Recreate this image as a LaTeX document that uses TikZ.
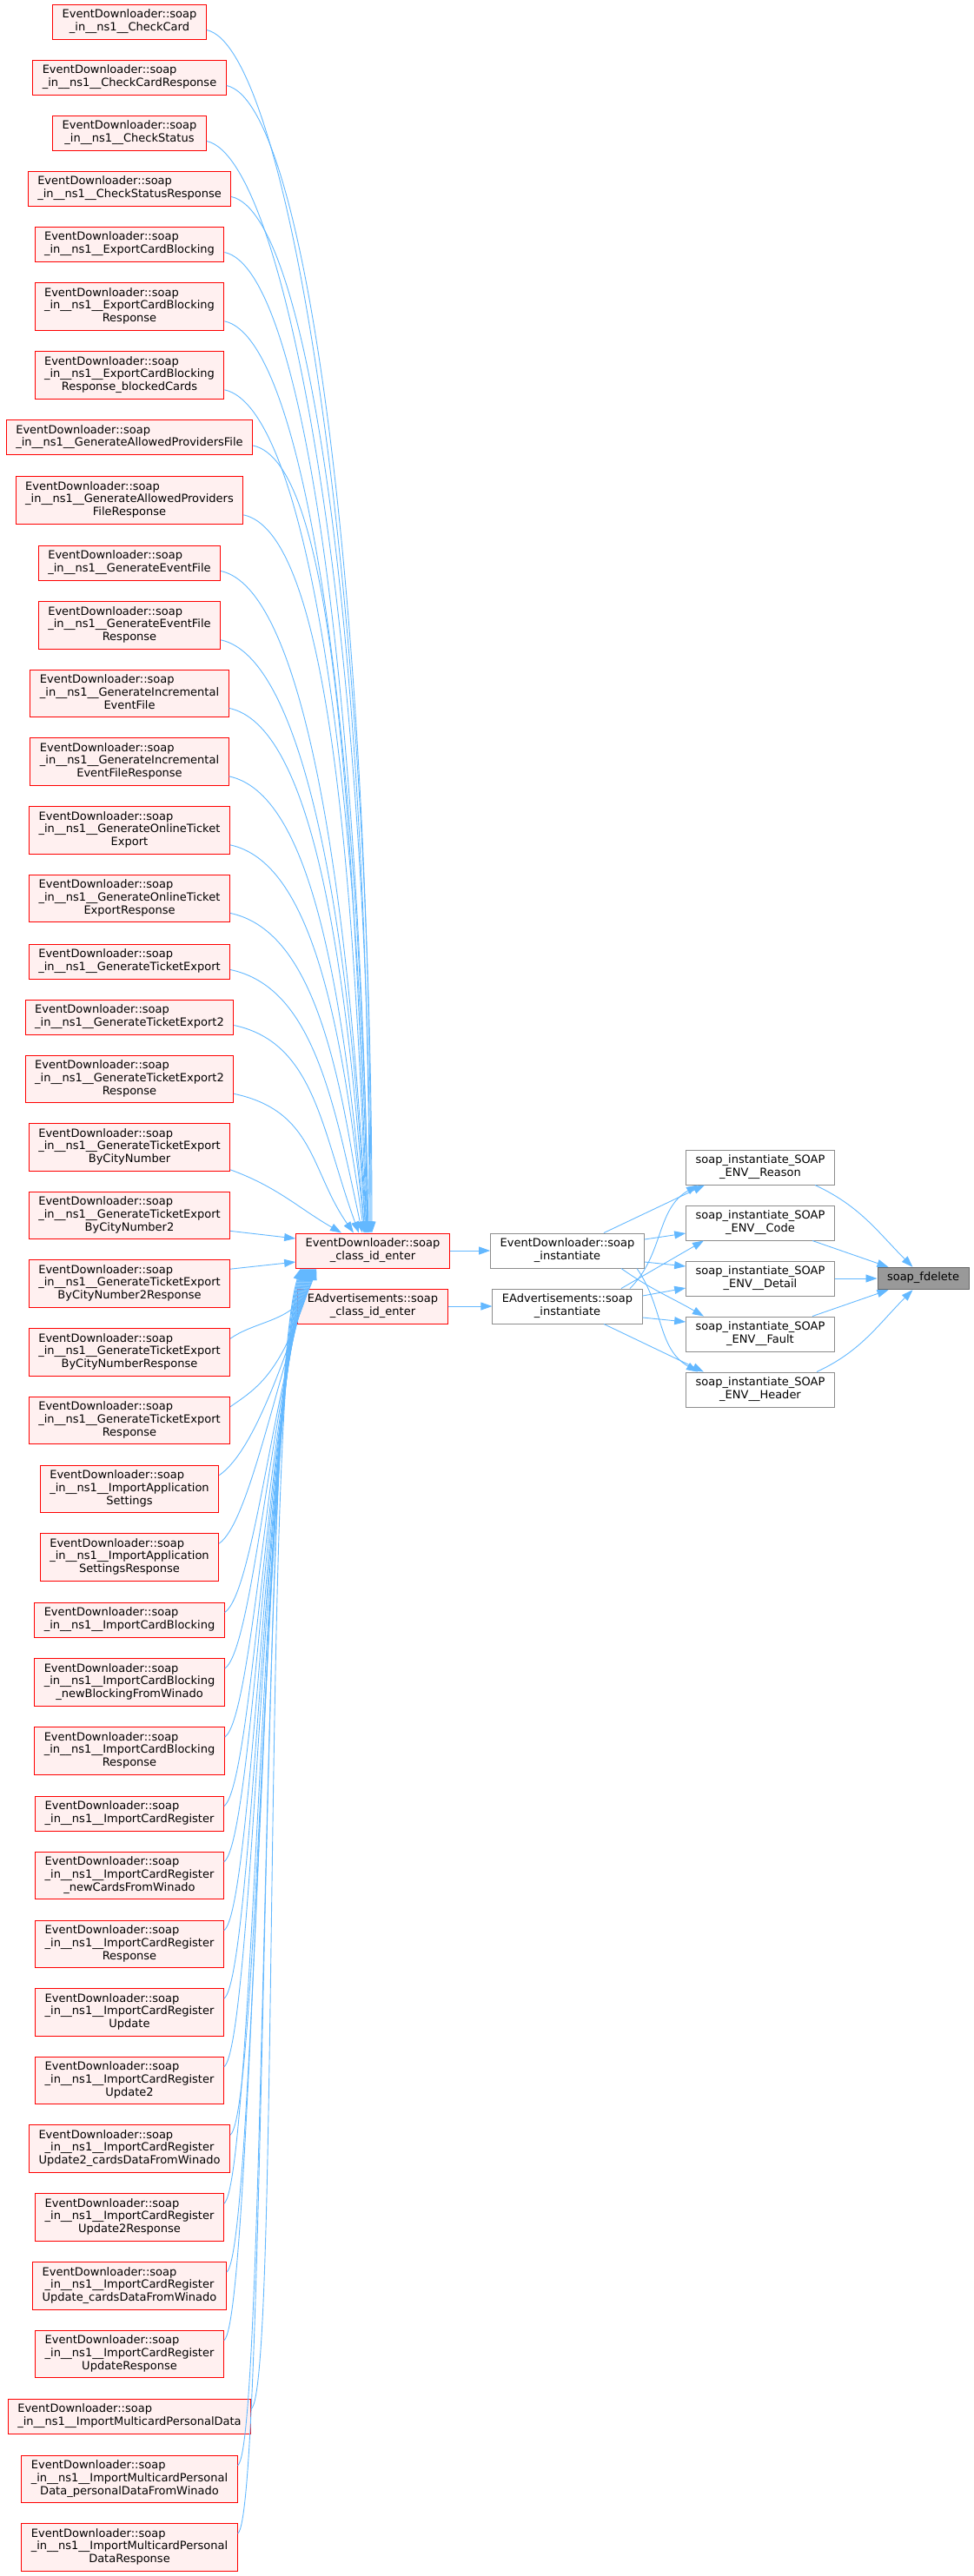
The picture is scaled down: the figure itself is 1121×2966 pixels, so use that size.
\documentclass[tikz,border=0pt]{standalone}
\usepackage{fontspec}
\setmainfont{DejaVu Sans}
\usetikzlibrary{arrows.meta}
\definecolor{edgeblue}{HTML}{63B8FF}
\definecolor{callerred}{HTML}{FF0000}
\definecolor{callerfill}{HTML}{FFF0F0}
\definecolor{funcgray}{HTML}{8C8C8C}
\definecolor{rootfill}{HTML}{999999}
\definecolor{rootdraw}{HTML}{666666}
% first line left, the rest centred
\newcommand{\dlabel}[2]{\begin{tabular}{@{}c@{}}\multicolumn{1}{@{}l@{}}{#1}\\#2\end{tabular}}
\begin{document}
\begin{tikzpicture}[x=1pt,y=1pt,
	box/.style={inner xsep=11pt,inner ysep=5.3pt,line width=1pt,font=\fontsize{13}{14.7}\selectfont},
	caller/.style={box,draw=callerred,fill=callerfill},
	func/.style={box,draw=funcgray,fill=white},
	root/.style={box,draw=rootdraw,fill=rootfill},
	edge/.style={draw=edgeblue,line width=0.9pt,-{Triangle[length=13pt,width=9pt]}}]
	\useasboundingbox (0,0) rectangle (1121,-2966);
	% callers of soap_class_id_enter
	\foreach \n/\y/\txt in {1/25/{CheckCard},2/89/{CheckCardResponse},3/153/{CheckStatus},4/217/{CheckStatusResponse},
		5/281/{ExportCardBlocking},6/353/{ExportCardBlocking\\Response},7/432/{ExportCardBlocking\\Response\_blockedCards},
		8/503.5/{GenerateAllowedProvidersFile},9/576/{GenerateAllowedProviders\\FileResponse},10/648/{GenerateEventFile},
		11/720/{GenerateEventFile\\Response},12/798.5/{GenerateIncremental\\EventFile},13/877/{GenerateIncremental\\EventFileResponse},
		14/956/{GenerateOnlineTicket\\Export},15/1034.5/{GenerateOnlineTicket\\ExportResponse},16/1107/{GenerateTicketExport},
		17/1171/{GenerateTicketExport2},18/1242.5/{GenerateTicketExport2\\Response},19/1321/{GenerateTicketExport\\ByCityNumber},
		20/1399.5/{GenerateTicketExport\\ByCityNumber2},21/1478/{GenerateTicketExport\\ByCityNumber2Response},
		22/1557/{GenerateTicketExport\\ByCityNumberResponse},23/1635.5/{GenerateTicketExport\\Response},
		24/1714.5/{ImportApplication\\Settings},25/1793/{ImportApplication\\SettingsResponse},26/1865/{ImportCardBlocking},
		27/1937/{ImportCardBlocking\\\_newBlockingFromWinado},28/2016/{ImportCardBlocking\\Response},29/2088/{ImportCardRegister},
		30/2159.5/{ImportCardRegister\\\_newCardsFromWinado},31/2238.5/{ImportCardRegister\\Response},32/2317/{ImportCardRegister\\Update},
		33/2395.5/{ImportCardRegister\\Update2},34/2474/{ImportCardRegister\\Update2\_cardsDataFromWinado},
		35/2553/{ImportCardRegister\\Update2Response},36/2632/{ImportCardRegister\\Update\_cardsDataFromWinado},
		37/2710.5/{ImportCardRegister\\UpdateResponse},38/2782/{ImportMulticardPersonalData},
		39/2854.5/{ImportMulticardPersonal\\Data\_personalDataFromWinado},40/2933/{ImportMulticardPersonal\\DataResponse}}{
		\node[caller] (c\n) at (149,-\y) {\dlabel{EventDownloader::soap}{\_in\_\_ns1\_\_\txt}};
	}
	\node[caller] (EDenter) at (429,-1440) {\dlabel{EventDownloader::soap}{\_class\_id\_enter}};
	\node[caller] (EAenter) at (429,-1504) {\dlabel{EAdvertisements::soap}{\_class\_id\_enter}};
	\node[func] (EDinst) at (653,-1440) {\dlabel{EventDownloader::soap}{\_instantiate}};
	\node[func] (EAinst) at (653,-1504) {\dlabel{EAdvertisements::soap}{\_instantiate}};
	\node[func] (Reason) at (875,-1344) {\dlabel{soap\_instantiate\_SOAP}{\_ENV\_\_Reason}};
	\node[func] (Code) at (875,-1408) {\dlabel{soap\_instantiate\_SOAP}{\_ENV\_\_Code}};
	\node[func] (Detail) at (875,-1472) {\dlabel{soap\_instantiate\_SOAP}{\_ENV\_\_Detail}};
	\node[func] (Fault) at (875,-1536) {\dlabel{soap\_instantiate\_SOAP}{\_ENV\_\_Fault}};
	\node[func] (Header) at (875,-1600) {\dlabel{soap\_instantiate\_SOAP}{\_ENV\_\_Header}};
	\node[root] (fdelete) at (1062.5,-1472) {\strut soap\_fdelete};
	% upper callers come in from above
	\foreach \n/\y/\dx/\ia in {1/25/-1/90,2/89/-2/90,3/153/-3/90,4/217/-4/90,5/281/-5/91,6/353/-5/91,7/432/-6/91,
		8/503/-6/92,9/576/-7/92,10/648/-7/93,11/720/-8/93,12/798/-8/94,13/877/-9/95,14/956/-9/96,
		15/1034/-10/98,16/1107/-12/102,17/1171/-16/110,18/1242/-22/125}{
		\pgfmathsetmacro\dd{0.55*(1400-\y)}
		\draw[edge] ([yshift=11pt]c\n.south east) .. controls +(-12:95pt) and +(\ia:\dd pt) .. ([xshift=\dx pt]EDenter.north);
	}
	\draw[edge] ([yshift=2pt]c19.south east) to[out=-20,in=150] ([xshift=-36pt]EDenter.north);
	\draw[edge] ([yshift=10pt]c20.south east) -- ([yshift=14pt]EDenter.west);
	\draw[edge] ([yshift=-11pt]c21.north east) -- ([yshift=-13pt]EDenter.west);
	% lower callers come in from below
	\foreach \n/\y/\dx in {22/1557/24,23/1635/23,24/1714/22,25/1793/21,26/1865/20,27/1937/19,28/2016/18,29/2088/17,
		30/2159/16,31/2238/15,32/2317/14,33/2395/13,34/2474/12,35/2553/11,36/2632/10,37/2710/9,38/2782/8,39/2854/7,40/2933/6}{
		\pgfmathsetmacro\dd{min(150,0.8*(\y-1475))}
		\draw[edge] ([yshift=-12pt]c\n.north east) .. controls +(35:40pt) and +(-108:\dd pt) .. ([xshift=\dx pt]EDenter.south west);
	}
	\draw[edge] (EDenter) -- (EDinst);
	\draw[edge] (EAenter) -- (EAinst);
	% instantiate -> SOAP_ENV nodes
	\draw[edge] ([xshift=42pt]EDinst.north) -- ([xshift=-64pt]Reason.south);
	\draw[edge] ([yshift=13pt]EDinst.east) -- ([yshift=-12pt]Code.west);
	\draw[edge] ([yshift=-13pt]EDinst.east) -- ([yshift=14pt]Detail.west);
	\draw[edge] ([xshift=62pt]EDinst.south) to[out=-35,in=150] ([xshift=-65pt]Fault.north);
	\draw[edge] ([xshift=80pt]EDinst.south) to[out=-55,in=150] ([xshift=-72pt]Header.north);
	\draw[edge] ([xshift=72pt]EAinst.north) to[out=45,in=-150] ([xshift=-72pt]Reason.south);
	\draw[edge] ([xshift=62pt]EAinst.north) to[out=30,in=-150] ([xshift=-65pt]Code.south);
	\draw[edge] ([yshift=12pt]EAinst.east) -- ([yshift=-11pt]Detail.west);
	\draw[edge] ([yshift=-13pt]EAinst.east) -- ([yshift=14pt]Fault.west);
	\draw[edge] ([xshift=42pt]EAinst.south) -- ([xshift=-65pt]Header.north);
	% SOAP_ENV nodes -> soap_fdelete
	\draw[edge] ([xshift=63pt]Reason.south) to[out=-25,in=135] ([xshift=-12pt]fdelete.north);
	\draw[edge] ([xshift=60pt]Code.south) -- ([xshift=-40pt]fdelete.north);
	\draw[edge] (Detail) -- (fdelete);
	\draw[edge] ([xshift=60pt]Fault.north) -- ([xshift=-40pt]fdelete.south);
	\draw[edge] ([xshift=65pt]Header.north) to[out=25,in=-135] ([xshift=-12pt]fdelete.south);
\end{tikzpicture}
\end{document}
